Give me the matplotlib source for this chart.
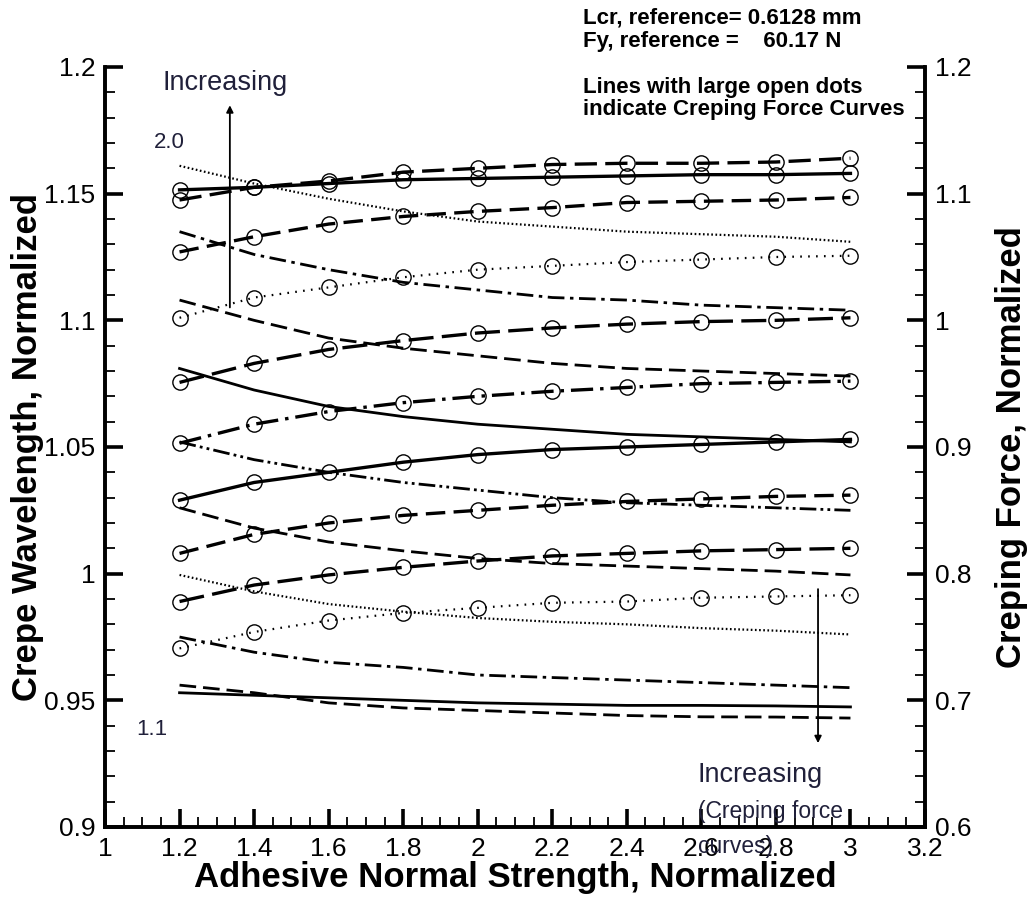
import matplotlib
matplotlib.use("Agg")
import matplotlib.pyplot as plt
from matplotlib.ticker import MultipleLocator

plt.rcParams["font.family"] = ["Liberation Sans", "DejaVu Sans"]
plt.rcParams["lines.scale_dashes"] = False

# Adhesive normal strength (normalized)
strength = [1.2, 1.4, 1.6, 1.8, 2.0, 2.2, 2.4, 2.6, 2.8, 3.0]

# Crepe wavelength, normalized (left axis), top to bottom at x = 1.2
wl_a = [1.161, 1.154, 1.148, 1.143, 1.139, 1.137, 1.135, 1.134, 1.133, 1.131]
wl_b = [1.135, 1.126, 1.120, 1.115, 1.112, 1.109, 1.108, 1.106, 1.105, 1.104]
wl_c = [1.108, 1.100, 1.093, 1.089, 1.086, 1.083, 1.081, 1.080, 1.079, 1.078]
wl_d = [1.081, 1.0725, 1.066, 1.062, 1.059, 1.057, 1.055, 1.054, 1.053, 1.052]
wl_e = [1.052, 1.045, 1.040, 1.036, 1.033, 1.030, 1.028, 1.027, 1.026, 1.025]
wl_f = [1.026, 1.018, 1.0125, 1.009, 1.006, 1.004, 1.003, 1.002, 1.001, 0.9995]
wl_g = [0.9995, 0.993, 0.988, 0.985, 0.9825, 0.981, 0.980, 0.9785, 0.9775, 0.976]
wl_h = [0.975, 0.969, 0.965, 0.963, 0.960, 0.959, 0.958, 0.957, 0.956, 0.955]
wl_i = [0.953, 0.952, 0.951, 0.950, 0.949, 0.9485, 0.948, 0.948, 0.9478, 0.9474]
wl_j = [0.956, 0.953, 0.949, 0.947, 0.946, 0.945, 0.944, 0.9435, 0.9434, 0.943]

# Creping force, normalized (right axis), top to bottom
cf_a = [1.103, 1.105, 1.108, 1.111, 1.112, 1.113, 1.114, 1.115, 1.115, 1.116]
cf_b = [1.095, 1.105, 1.110, 1.117, 1.120, 1.123, 1.124, 1.124, 1.125, 1.128]
cf_c = [1.054, 1.066, 1.076, 1.082, 1.086, 1.089, 1.093, 1.094, 1.095, 1.097]
cf_d = [1.002, 1.018, 1.026, 1.034, 1.040, 1.043, 1.046, 1.048, 1.050, 1.051]
cf_e = [0.951, 0.966, 0.977, 0.984, 0.990, 0.994, 0.997, 0.999, 1.000, 1.002]
cf_f = [0.903, 0.918, 0.928, 0.935, 0.940, 0.944, 0.947, 0.950, 0.951, 0.952]
cf_g = [0.858, 0.872, 0.880, 0.888, 0.894, 0.898, 0.900, 0.902, 0.904, 0.906]
cf_h = [0.816, 0.831, 0.840, 0.846, 0.850, 0.854, 0.857, 0.859, 0.861, 0.862]
cf_i = [0.778, 0.791, 0.799, 0.805, 0.810, 0.814, 0.816, 0.818, 0.819, 0.820]
cf_j = [0.741, 0.754, 0.763, 0.769, 0.773, 0.777, 0.778, 0.781, 0.782, 0.783]

x_ticks = [1, 1.2, 1.4, 1.6, 1.8, 2, 2.2, 2.4, 2.6, 2.8, 3, 3.2]
x_tick_labels = ["1", "1.2", "1.4", "1.6", "1.8", "2", "2.2", "2.4", "2.6", "2.8", "3", "3.2"]
left_ticks = [0.9, 0.95, 1.0, 1.05, 1.1, 1.15, 1.2]
left_tick_labels = ["0.9", "0.95", "1", "1.05", "1.1", "1.15", "1.2"]
right_ticks = [0.6, 0.7, 0.8, 0.9, 1.0, 1.1, 1.2]
right_tick_labels = ["0.6", "0.7", "0.8", "0.9", "1", "1.1", "1.2"]

# line styles
SOLID = "-"
DOT_FINE = (0, (1.2, 1.8))
DOT_WIDE = (0, (1.2, 4.5))
DASH = (0, (12, 5))
DASH_DOT = (0, (12, 4, 2.5, 4))
DASH_DDOT = (0, (12, 3, 2, 3, 2, 3))

wl_series = [wl_a, wl_b, wl_c, wl_d, wl_e, wl_f, wl_g, wl_h, wl_i, wl_j]
wl_styles = [DOT_FINE, DASH_DOT, DASH, SOLID, DASH_DDOT, DASH, DOT_FINE, DASH_DOT, SOLID, DASH]

cf_series = [cf_a, cf_b, cf_c, cf_d, cf_e, cf_f, cf_g, cf_h, cf_i, cf_j]
cf_styles = [SOLID, (0, (16, 6)), (0, (14, 6)), DOT_WIDE, (0, (18, 6)),
             (0, (16, 5, 2.5, 5)), SOLID, (0, (14, 6)), (0, (18, 6)), DOT_WIDE]

fig = plt.figure(figsize=(10.34, 8.98), dpi=100)
ax = fig.add_axes([105 / 1034, 1 - 827 / 898, 820 / 1034, 760 / 898])
ax2 = ax.twinx()

for ys, ls in zip(wl_series, wl_styles):
    lw = 1.6 if ls == DOT_FINE else 2.0
    ax.plot(strength, ys, color="black", linestyle=ls, linewidth=lw)

for ys, ls in zip(cf_series, cf_styles):
    lw = 1.6 if ls == DOT_WIDE else 2.4
    ax2.plot(strength, ys, color="black", linestyle=ls, linewidth=lw,
             marker="o", markersize=11, markerfacecolor="none",
             markeredgecolor="black", markeredgewidth=1.0)

ax.set_xlim(1, 3.2)
ax.set_ylim(0.9, 1.2)
ax2.set_ylim(0.6, 1.2)

ax.set_xticks(x_ticks)
ax.set_xticklabels(x_tick_labels)
ax.set_yticks(left_ticks)
ax.set_yticklabels(left_tick_labels)
ax2.set_yticks(right_ticks)
ax2.set_yticklabels(right_tick_labels)
ax.xaxis.set_minor_locator(MultipleLocator(0.05))
ax.yaxis.set_minor_locator(MultipleLocator(0.01))
ax2.yaxis.set_minor_locator(MultipleLocator(0.02))

for a in (ax, ax2):
    a.spines["top"].set_visible(False)
    for s in ("left", "right", "bottom"):
        a.spines[s].set_linewidth(2.6)
    a.tick_params(which="major", direction="in", length=13, width=2.6,
                  labelsize=19, pad=7)
    a.tick_params(which="minor", direction="in", length=7, width=1.3)
ax.tick_params(axis="y", which="both", right=False)
ax.tick_params(axis="x", which="both", top=False)
ax2.tick_params(axis="y", which="both", left=False)

ax.set_xlabel("Adhesive Normal Strength, Normalized", fontsize=25,
              fontweight="bold", labelpad=0)
ax.set_ylabel("Crepe Wavelength, Normalized", fontsize=25,
              fontweight="bold", labelpad=0)
ax2.set_ylabel("Creping Force, Normalized", fontsize=25,
               fontweight="bold", rotation=90, labelpad=17)

note_color = "#20203a"
# arrows showing the direction of the increasing parameter
ax.annotate("", xy=(1.335, 1.186), xytext=(1.335, 1.104),
            arrowprops=dict(arrowstyle="-|>", color="black", lw=1.3,
                            mutation_scale=10))
ax.annotate("", xy=(2.913, 0.932), xytext=(2.913, 0.995),
            arrowprops=dict(arrowstyle="-|>", color="black", lw=1.3,
                            mutation_scale=10))
ax.text(1.155, 1.1935, "Increasing", fontsize=19.5, color=note_color,
        ha="left", va="center")
ax.text(2.59, 0.9205, "Increasing", fontsize=19.5, color=note_color,
        ha="left", va="center")
ax.text(2.59, 0.906, "(Creping force", fontsize=16.5, color=note_color,
        ha="left", va="center")
ax.text(2.59, 0.8925, "curves)", fontsize=16.5, color=note_color,
        ha="left", va="center")
ax.text(1.13, 1.170, "2.0", fontsize=16, color=note_color,
        ha="left", va="center")
ax.text(1.085, 0.9385, "1.1", fontsize=16, color=note_color,
        ha="left", va="center")

fig.text(583 / 1034, 1 - 18 / 898, "Lcr, reference= 0.6128 mm", fontsize=16,
         fontweight="bold", ha="left", va="center")
fig.text(583 / 1034, 1 - 41 / 898, "Fy, reference =    60.17 N", fontsize=16,
         fontweight="bold", ha="left", va="center")
fig.text(583 / 1034, 1 - 88 / 898, "Lines with large open dots", fontsize=16,
         fontweight="bold", ha="left", va="center")
fig.text(583 / 1034, 1 - 110 / 898, "indicate Creping Force Curves",
         fontsize=16, fontweight="bold", ha="left", va="center")

fig.savefig("out.png", dpi=100)
